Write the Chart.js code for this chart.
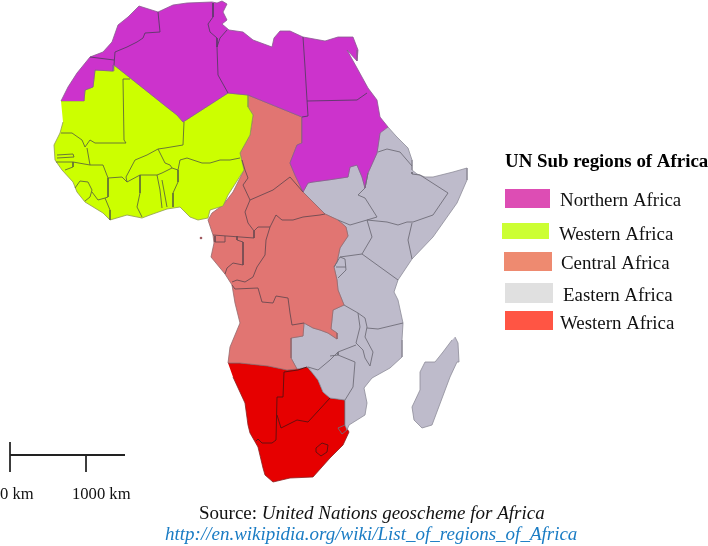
<!DOCTYPE html>
<html>
<head>
<meta charset="utf-8">
<style>html,body{margin:0;padding:0;background:#fff}canvas{display:block}</style>
<script src="https://cdn.jsdelivr.net/npm/chart.js@4/dist/chart.umd.min.js"></script>
</head>
<body>
<canvas id="c" width="708" height="546"></canvas>
<script>
// Region outlines (map units = picture pixels)
const northernAfrica = [[61,101],[68,87],[77,73],[90,57],[103,52],[112,42],[118,25],[128,17],[139,6],[158,12],[173,5],[187,3],[212,2],[217,3],[222,1],[227,4],[223,12],[227,20],[222,24],[229,30],[243,32],[253,40],[272,47],[274,38],[280,31],[290,31],[303,37],[325,41],[338,37],[353,37],[358,50],[357,61],[347,50],[357,68],[368,88],[377,100],[380,117],[388,127],[380,133],[377,153],[368,173],[365,188],[362,177],[357,165],[350,167],[348,177],[328,180],[313,182],[308,183],[303,192],[295,175],[290,163],[297,145],[302,143],[302,117],[248,95],[228,93],[183,122],[177,115],[168,108],[114,65],[113,71],[95,70],[93,87],[85,90],[84,101]];
const westernAfrica = [[61,101],[84,101],[85,90],[93,87],[95,70],[113,71],[114,65],[168,108],[177,115],[183,122],[228,93],[248,95],[248,107],[253,115],[250,135],[240,153],[244,170],[228,195],[223,206],[210,210],[208,218],[198,220],[190,217],[180,207],[167,209],[150,215],[142,218],[127,215],[110,220],[103,213],[85,202],[77,192],[73,182],[62,170],[55,160],[54,145],[60,133],[63,122]];
const centralAfrica = [[248,95],[302,117],[302,143],[297,145],[290,163],[295,175],[303,192],[325,214],[338,220],[346,227],[348,236],[340,248],[337,262],[334,267],[337,280],[338,290],[344,305],[333,310],[331,329],[337,333],[337,339],[328,333],[320,330],[313,328],[304,323],[303,336],[291,338],[291,358],[297,369],[287,370],[268,366],[240,363],[228,363],[230,347],[240,323],[235,303],[232,285],[225,274],[211,257],[214,243],[213,235],[208,220],[212,213],[223,205],[233,192],[244,170],[240,153],[250,135],[253,115],[248,107]];
const easternAfrica = [[388,127],[396,136],[408,148],[412,160],[412,170],[417,174],[425,177],[433,177],[453,172],[467,168],[467,180],[457,203],[433,237],[412,259],[398,280],[394,292],[398,300],[403,323],[402,340],[402,357],[390,368],[372,378],[364,388],[367,403],[365,415],[349,425],[347,430],[345,425],[345,400],[330,398],[323,392],[318,380],[308,367],[297,369],[291,358],[291,338],[303,336],[304,323],[313,328],[320,330],[328,333],[337,339],[337,333],[331,329],[333,310],[344,305],[338,290],[337,280],[334,267],[337,262],[340,248],[348,236],[346,227],[338,220],[325,214],[303,192],[308,183],[313,182],[328,180],[348,177],[350,167],[357,165],[362,177],[365,188],[368,173],[377,153],[380,133]];
const madagascar = [[455,337],[458,343],[459,362],[457,362],[450,377],[435,417],[432,425],[422,428],[414,420],[412,407],[420,390],[420,372],[425,362],[435,362],[443,352],[452,340]];
const southernAfrica = [[228,363],[240,363],[268,366],[287,370],[307,367],[318,380],[323,392],[330,398],[345,400],[345,425],[349,432],[343,445],[330,458],[313,477],[290,478],[273,482],[265,475],[263,468],[258,447],[250,433],[248,425],[245,403],[233,377]];
const saoTome = [[201,238]];

// Country borders inside each region
const northernBorders = [
  [[158,12],[160,32],[145,33],[143,38],[137,42],[127,47],[115,52],[114,65]],
  [[90,57],[114,60]],
  [[213,3],[213,17],[208,24],[210,32],[217,38],[217,47]],
  [[227,30],[220,38],[217,47]],
  [[217,47],[218,75],[228,93]],
  [[303,37],[305,67],[307,100],[308,116],[302,117]],
  [[307,101],[357,100],[367,93]]
];
const westernBorders = [
  [[130,79],[123,79],[124,140],[126,143],[95,143],[90,140],[85,147],[82,140],[72,133],[61,133]],
  [[184,122],[183,145],[165,148],[158,149],[147,155],[135,160],[126,177],[127,182],[122,177],[108,178],[103,165],[90,165],[87,148]],
  [[57,155],[73,154],[74,157],[57,158]],
  [[56,162],[73,162],[73,167],[65,170]],
  [[90,165],[73,162]],
  [[75,188],[80,181],[88,182],[92,190],[90,197],[85,201]],
  [[92,192],[98,200],[105,198],[110,210],[110,220]],
  [[108,178],[108,197],[105,198]],
  [[127,182],[140,175],[157,175],[162,173],[172,168],[170,165],[165,163],[158,149]],
  [[140,175],[140,193],[137,207],[142,217]],
  [[157,175],[160,190],[162,208]],
  [[162,180],[167,207]],
  [[172,168],[178,170],[178,182],[173,193],[173,207]],
  [[178,170],[180,160],[187,158],[202,163],[210,163],[220,160],[230,160],[240,158]]
];
const centralBorders = [
  [[242,160],[245,170],[248,178],[243,185],[250,200],[273,190],[290,177],[303,192]],
  [[250,200],[245,212],[248,223],[254,231],[254,238]],
  [[254,231],[258,227],[270,227]],
  [[270,227],[276,215],[282,220],[293,220],[303,217],[320,215],[325,214]],
  [[213,235],[254,238]],
  [[215,236],[215,242],[225,242],[225,236]],
  [[237,236],[237,240],[243,242],[243,265],[233,263],[227,268],[225,274]],
  [[270,227],[266,240],[265,255],[257,267],[253,277],[245,282],[237,280],[232,282]],
  [[232,285],[235,289],[258,288],[262,302],[273,303],[276,296],[288,298],[290,313],[292,325],[304,323]]
];
const easternBorders = [
  [[358,195],[365,198],[377,217],[367,220],[350,225],[338,220]],
  [[368,173],[365,188],[358,195]],
  [[378,152],[387,149],[400,152],[412,166]],
  [[420,175],[448,193],[433,215],[413,222],[407,222],[398,225],[387,222],[367,220]],
  [[412,172],[412,174],[420,175]],
  [[412,223],[408,240],[412,259]],
  [[367,220],[372,237],[362,254]],
  [[340,257],[362,254]],
  [[362,254],[398,280]],
  [[334,267],[340,257],[345,259],[346,270],[338,278]],
  [[336,267],[346,267]],
  [[367,328],[378,329],[403,323]],
  [[344,305],[358,313]],
  [[358,313],[365,318],[367,327],[365,337],[373,352],[370,366],[365,358],[363,350],[356,343],[360,327],[358,313]],
  [[356,345],[338,352],[330,360],[318,370],[308,367]],
  [[338,352],[338,355],[355,362],[353,387],[345,400]],
  [[330,356],[338,355]],
  [[345,425],[338,428],[342,434],[347,430]]
];
const southernBorders = [
  [[284,372],[283,397],[277,397],[276,440],[272,443],[262,443],[258,439],[256,441]],
  [[284,372],[298,370],[307,367]],
  [[277,415],[281,428],[297,420],[308,422],[330,398]],
  [[316,448],[322,443],[328,445],[327,452],[321,456],[316,452],[316,448]]
];

// Scale bar
const scaleBar = [[10,455],[125,455]];
const scaleTicks = [[[10,442],[10,472]],[[86,455],[86,472]]];

// Texts
const legendTitle = "UN Sub regions of Africa";
const legendLabels = ["Northern Africa","Western Africa","Central Africa","Eastern Africa","Western Africa"];
const legendColors = ["#DD4DB4","#CCFF33","#EE8A70","#E0E0E0","#FF5544"];
const scaleLabels = ["0 km","1000 km"];
const sourcePrefix = "Source: ";
const sourceName = "United Nations geoscheme for Africa";
const sourceLink = "http://en.wikipidia.org/wiki/List_of_regions_of_Africa";

// Style / layout (separate from data)
const FILLS = {north:"#CC33CC",west:"#CCFF00",central:"#E17572",east:"#BEBBCB",south:"#E60000"};
const LINES = {north:"#5a3a66",west:"#5f6a3a",central:"#6b4a50",east:"#6f6d78",south:"#5a1010"};
const COAST = {north:"#8a5a90",west:"#8f9a50",central:"#96686c",east:"#8d8b98",south:"#8a2020"};
const swatches = [[505,189,45,19],[502,223,47,16],[504,252,48,19],[505,283,48,20],[505,311,48,19]];
const labelPos = [[560,206],[559,240],[561,269],[563,301],[560,329]];

const pts = a => a.map(p => ({x:p[0],y:p[1]}));
const poly = (a,k) => ({data:pts(a),showLine:true,fill:'shape',backgroundColor:FILLS[k],borderColor:COAST[k],borderWidth:0.8,pointRadius:0,tension:0,order:5});
const lines = (arr,k) => arr.map(a => ({data:pts(a),showLine:true,fill:false,borderColor:LINES[k],borderWidth:0.9,pointRadius:0,tension:0,order:1}));

const datasets = [
  poly(northernAfrica,'north'),poly(westernAfrica,'west'),poly(centralAfrica,'central'),
  poly(easternAfrica,'east'),poly(madagascar,'east'),poly(southernAfrica,'south'),
  ...lines(northernBorders,'north'),...lines(westernBorders,'west'),...lines(centralBorders,'central'),
  ...lines(easternBorders,'east'),...lines(southernBorders,'south'),
  {data:pts(saoTome),showLine:false,pointRadius:1.3,pointBackgroundColor:"#a05a60",pointBorderWidth:0},
  {data:pts(scaleBar),showLine:true,fill:false,borderColor:"#222",borderWidth:2,pointRadius:0},
  ...scaleTicks.map(a=>({data:pts(a),showLine:true,fill:false,borderColor:"#222",borderWidth:1,pointRadius:0}))
];

const annotate = {
  id:'annotate',
  afterDatasetsDraw(chart){
    const ctx = chart.ctx;
    ctx.save();
    ctx.textBaseline = 'alphabetic';
    ctx.fillStyle = '#000';
    ctx.font = 'bold 18.9px "Liberation Serif"';
    ctx.fillText(legendTitle,505,167);
    legendLabels.forEach((t,i)=>{
      const s = swatches[i];
      ctx.fillStyle = legendColors[i];
      ctx.fillRect(s[0],s[1],s[2],s[3]);
      ctx.fillStyle = '#111';
      ctx.font = '18.9px "Liberation Serif"';
      ctx.fillText(t,labelPos[i][0],labelPos[i][1]);
    });
    ctx.fillStyle = '#111';
    ctx.font = '16.6px "Liberation Serif"';
    ctx.fillText(scaleLabels[0],0,499);
    ctx.fillText(scaleLabels[1],72,499);
    ctx.font = '19px "Liberation Serif"';
    ctx.fillText(sourcePrefix,199,519);
    const w = ctx.measureText(sourcePrefix).width;
    ctx.font = 'italic 19px "Liberation Serif"';
    ctx.fillText(sourceName,199+w,519);
    ctx.fillStyle = '#1a7cc4';
    ctx.fillText(sourceLink,165,540);
    ctx.restore();
  }
};

new Chart(document.getElementById('c'),{
  type:'scatter',
  data:{datasets},
  options:{
    responsive:false,animation:false,
    layout:{padding:0,autoPadding:false},
    scales:{
      x:{type:'linear',min:0,max:708,display:false},
      y:{type:'linear',min:0,max:546,reverse:true,display:false}
    },
    plugins:{legend:{display:false},tooltip:{enabled:false}}
  },
  plugins:[annotate]
});
</script>
</body>
</html>
